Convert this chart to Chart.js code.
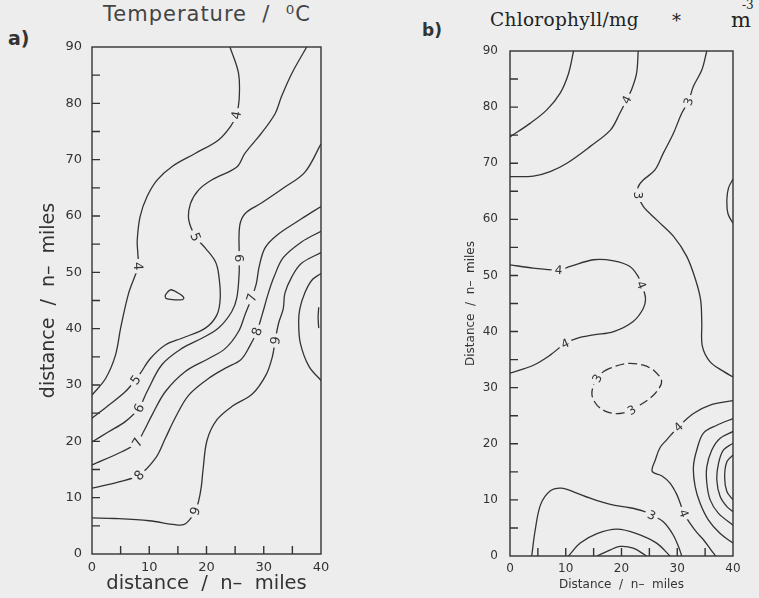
<!DOCTYPE html>
<html lang="en">
<head>
<meta charset="UTF-8">
<title>Temperature / Chlorophyll sections</title>
<script src="https://cdn.jsdelivr.net/npm/chart.js"></script>
<style>
  body { margin: 0; background: #ededed; width: 759px; height: 598px; position: relative; overflow: hidden; color: #333; font-family: "DejaVu Sans", sans-serif; }
  canvas { position: absolute; top: 0; }
  #chartTemp { left: 0; }
  #chartChl { left: 380px; }
  .txt { position: absolute; white-space: pre; line-height: 1; }
  #lblA { left: 8px; top: 29px; font-size: 19px; font-weight: bold; }
  #titleA { left: 103px; top: 4px; font-size: 21px; letter-spacing: 1px; color: #444; }
  #lblB { left: 422px; top: 22px; font-size: 17px; font-weight: bold; }
  .serif { font-family: "DejaVu Serif", serif; color: #222; }
  #titleB { left: 490px; top: 11px; font-size: 18.5px; letter-spacing: 0.3px; }
  #starB { left: 672px; top: 12px; font-size: 18px; }
  #unitB { left: 731px; top: 10px; font-size: 21px; }
  #expB { left: 742px; top: -1px; font-size: 12px; }
</style>
</head>
<body>
<div class="txt" id="lblA">a)</div>
<div class="txt" id="titleA">Temperature  /  ⁰C</div>
<div class="txt" id="lblB">b)</div>
<div class="txt serif" id="titleB">Chlorophyll/mg</div>
<div class="txt serif" id="starB">*</div>
<div class="txt serif" id="unitB">m</div>
<div class="txt serif" id="expB">-3</div>
<canvas id="chartTemp" width="380" height="598"></canvas>
<canvas id="chartChl" width="379" height="598"></canvas>

<script>
// axis ticks (n-miles)
const xTickValues = [0, 10, 20, 30, 40];
const yTickValues = [0, 10, 20, 30, 40, 50, 60, 70, 80, 90];

// ---- a) Temperature / °C : contour lines as [x, y] ----
const temp4 = [[24.1,90],[25.6,85.3],[25.7,80.6],[25.2,77.9],[24.4,76.2],[22.1,73.5],[18.0,71.1],[14.0,68.8],[11.4,66.4],[9.6,63.4],[8.4,59.9],[7.9,55.7],[8.0,53.4],[8.1,51.1],[7.6,49.6],[6.4,46.3],[5.0,40.1],[4.1,35.3],[2.4,31.2],[0,28.2]];
const temp5 = [[37.5,90],[34.9,85.3],[33.1,81.2],[32.0,78.2],[29.6,74.7],[26.7,71.1],[25.3,68.7],[20.9,66.4],[18.6,64.6],[17.2,62.2],[16.9,59.3],[18.1,56.3],[19.8,54.3],[21.5,52.0],[22.1,49.8],[22.4,45.5],[21.8,42.4],[19.8,40.1],[15.7,38.3],[12.8,37.1],[10.2,34.7],[8.4,32.0],[7.6,30.9],[5.8,28.8],[2.9,26.4],[0,24.1]];
const temp6 = [[40,72.8],[37.2,67.8],[33.5,65.0],[29.6,62.3],[26.8,60.5],[25.8,58.3],[25.7,53.4],[25.7,52.5],[25.7,49.8],[25.3,45.5],[24.4,43.0],[22.1,40.1],[19.2,38.3],[15.7,36.5],[12.2,33.6],[9.6,28.8],[8.2,25.9],[5.8,23.5],[2.9,21.7],[0,19.9]];
const temp7 = [[40,61.7],[36.6,59.5],[32.3,56.6],[30.2,54.3],[29.2,51.0],[28.7,48.0],[27.9,45.5],[26.7,42.4],[25.6,39.5],[23.3,36.5],[20.4,34.7],[16.3,32.4],[12.8,28.8],[10.5,24.7],[9.0,21.7],[7.9,19.8],[5.3,18.2],[0,15.8]];
const temp8 = [[40,57.3],[36.6,55.4],[33.4,52.6],[31.8,49.2],[30.8,46.3],[29.7,42.4],[28.8,39.5],[27.5,36.8],[26.0,34.5],[23.3,33.0],[20.4,31.2],[16.9,28.2],[14.5,24.1],[12.8,20.5],[11.1,17.0],[8.2,14.0],[4.7,12.8],[0,11.7]];
const temp9 = [[40,53.5],[36.6,51.6],[34.9,49.2],[33.7,46.3],[33.4,43.5],[32.6,41.0],[32.0,37.9],[31.5,35.0],[30.4,31.8],[28.0,28.4],[24.6,26.3],[21.8,23.8],[20.1,20.2],[19.4,15.0],[19.1,12.0],[18.6,9.3],[18.0,7.6],[17.0,6.0],[16.0,5.2],[14.5,5.2],[10.0,5.9],[4.0,6.3],[0,6.4]];
const temp10 = [[40,49.8],[38.4,48.6],[37.2,46.4],[36.3,43.5],[36.1,41.0],[36.4,37.4],[37.9,33.3],[40,30.8]];
const tempBit = [[39.6,43.8],[39.5,42.0],[39.6,40.1]];
const tempLoop = [[13.1,46.4],[13.7,46.9],[14.4,46.7],[15.1,46.3],[15.9,45.7],[16.0,45.3],[15.4,45.1],[13.7,45.2],[12.9,45.4],[12.8,45.9],[13.1,46.4]];
const tempLines = [temp4, temp5, temp6, temp7, temp8, temp9, temp10, tempBit, tempLoop];
// contour labels: [text, x, y]
const tempLabels = [['4',25.2,77.9],['4',8.1,51.1],['5',18.1,56.3],['6',25.7,52.5],['5',7.6,30.9],['6',8.2,25.9],['7',7.9,19.8],['8',8.2,14.0],['9',18.0,7.6],['7',27.9,45.5],['8',28.8,39.5],['9',32.0,37.9]];

// ---- b) Chlorophyll / mg m-3 ----
const chl5 = [[11.4,90],[10.5,86.0],[9.0,82.5],[6.6,79.5],[3.6,77.1],[0,74.7]];
const chl4top = [[23.0,90],[22.7,86.0],[21.8,83.1],[20.9,81.3],[19.7,78.9],[18.0,75.9],[14.4,73.0],[10.2,70.0],[7.2,68.5],[4.2,67.7],[0,67.6]];
const chl3right = [[35.3,90],[34.4,86.6],[32.9,83.7],[32.0,81.0],[30.8,78.9],[29.3,75.3],[27.5,71.8],[26.0,68.8],[23.9,67.0],[23.0,65.8],[23.0,64.3],[23.9,62.3],[26.3,59.9],[29.3,57.0],[31.7,53.4],[33.3,49.2],[34.2,45.6],[34.4,41.5],[34.5,37.4],[35.9,34.6],[38.3,32.9],[40,31.9]];
const chlBulge = [[40,67.2],[39.2,65.6],[38.9,63.5],[39.1,61.0],[40,59.3]];
const chl4mid = [[0,51.9],[4.2,51.3],[8.7,51.0],[10.8,51.6],[15.0,52.8],[18.6,52.6],[21.5,51.6],[23.0,49.8],[23.6,48.3],[24.3,46.0],[23.9,44.1],[22.1,41.8],[18.6,40.0],[15.0,39.4],[12.0,38.8],[9.9,37.9],[7.2,35.8],[4.2,34.0],[0,32.6]];
const chl3loop = [[16.8,32.9],[18.0,33.5],[20.9,34.3],[23.9,34.0],[26.0,32.9],[27.2,31.1],[26.3,29.3],[25.1,28.1],[23.3,26.9],[21.8,26.0],[19.7,25.4],[17.4,25.7],[15.6,26.9],[14.7,28.7],[15.0,30.5],[15.6,31.7],[16.8,32.9]];
const chl4low = [[40,27.7],[35.9,26.9],[32.9,25.4],[30.2,23.0],[28.1,20.7],[26.9,19.3],[26.1,17.2],[25.5,15.1],[27.2,14.3],[28.7,13.0],[29.8,11.2],[30.5,9.5],[31.2,7.6],[32.3,5.8],[33.5,4.2],[34.7,2.9],[36.5,0.5],[36.9,0]];
const chlRing1 = [[40,24.5],[37.1,23.3],[34.7,21.9],[33.5,18.9],[32.9,15.9],[33.2,12.4],[34.1,9.4],[35.6,6.4],[37.7,4.0],[40,2.3]];
const chlRing2 = [[40,22.2],[37.7,21.0],[36.2,18.9],[35.3,15.9],[35.3,13.0],[35.9,10.0],[37.4,7.6],[40,5.5]];
const chlRing3 = [[40,20.1],[38.3,18.9],[37.4,16.5],[37.1,13.5],[37.7,10.6],[38.9,8.8],[40,7.9]];
const chlRing4 = [[40,18.0],[38.9,16.8],[38.5,14.1],[38.9,11.5],[40,10.0]];
const chl3low = [[3.9,0],[4.5,4.5],[5.5,9.2],[7.2,11.6],[9.2,12.1],[11.5,11.4],[14.4,10.3],[18.0,9.2],[21.5,8.6],[23.9,8.0],[25.4,7.3],[27.5,6.1],[29.3,3.7],[30.4,1.2],[30.8,0]];
const chlBottom2 = [[10.5,0],[12.6,2.3],[15.6,4.0],[19.2,4.8],[22.7,4.0],[26.3,2.3],[28.7,0]];
const chlBottom1 = [[15.6,0],[18.0,1.1],[19.7,1.7],[22.1,1.4],[24.5,0]];
const chlLines = [chl5, chl4top, chl3right, chlBulge, chl4mid, chl4low, chlRing1, chlRing2, chlRing3, chlRing4, chl3low, chlBottom2, chlBottom1];
const chlDashed = [chl3loop];
const chlLabels = [['4',20.9,81.3],['3',32.0,81.0],['3',23.0,64.3],['4',8.7,51.0],['4',23.6,48.3],['4',9.9,37.9],['3',15.6,31.7],['3',21.8,26.0],['4',30.2,23.0],['3',25.4,7.3],['4',31.2,7.6]];

const BG = '#ededed';
const INK = '#333';
Chart.defaults.font.family = "'DejaVu Sans', sans-serif";
Chart.defaults.color = INK;

// frame + inward ticks every 5 n-miles
const frameTicks = {
  id: 'frameTicks',
  afterDraw(chart) {
    const { ctx, chartArea: a, scales: { x, y } } = chart;
    ctx.save();
    ctx.strokeStyle = INK;
    ctx.lineWidth = 1.4;
    ctx.strokeRect(a.left, a.top, a.right - a.left, a.bottom - a.top);
    ctx.beginPath();
    for (let v = x.min + 5; v < x.max; v += 5) {
      const p = x.getPixelForValue(v);
      ctx.moveTo(p, a.bottom); ctx.lineTo(p, a.bottom - 8);
    }
    for (let v = y.min + 5; v < y.max; v += 5) {
      const p = y.getPixelForValue(v);
      ctx.moveTo(a.left, p); ctx.lineTo(a.left + 8, p);
    }
    ctx.stroke();
    ctx.restore();
  }
};

// contour labels, turned along the nearest line
const contourLabels = {
  id: 'contourLabels',
  afterDatasetsDraw(chart, args, opts) {
    const { ctx, scales: { x, y } } = chart;
    ctx.save();
    ctx.font = opts.font;
    ctx.textAlign = 'center';
    ctx.textBaseline = 'middle';
    opts.items.forEach(([text, vx, vy]) => {
      const px = x.getPixelForValue(vx), py = y.getPixelForValue(vy);
      let best = Infinity, ang = 0;
      chart.data.datasets.forEach(ds => {
        for (let i = 1; i < ds.data.length; i++) {
          const ax = x.getPixelForValue(ds.data[i - 1].x), ay = y.getPixelForValue(ds.data[i - 1].y);
          const bx = x.getPixelForValue(ds.data[i].x), by = y.getPixelForValue(ds.data[i].y);
          const dx = bx - ax, dy = by - ay;
          const t = Math.max(0, Math.min(1, ((px - ax) * dx + (py - ay) * dy) / (dx * dx + dy * dy || 1)));
          const d = Math.hypot(ax + t * dx - px, ay + t * dy - py);
          if (d < best) { best = d; ang = Math.atan2(dy, dx); }
        }
      });
      if (ang > Math.PI / 2) ang -= Math.PI;
      if (ang < -Math.PI / 2) ang += Math.PI;
      ctx.translate(px, py);
      ctx.rotate(ang);
      const w = ctx.measureText(text).width;
      ctx.fillStyle = BG;
      ctx.fillRect(-w / 2 - 3, -7, w + 6, 14);
      ctx.fillStyle = INK;
      ctx.fillText(text, 0, 1);
      ctx.setTransform(1, 0, 0, 1, 0, 0);
    });
    ctx.restore();
  }
};

function lineSet(pts, dashed) {
  return {
    data: pts.map(([x, y]) => ({ x, y })),
    showLine: true,
    borderColor: INK,
    borderWidth: 1.3,
    borderDash: dashed ? [9, 4] : [],
    pointRadius: 0,
    tension: 0.35,
    fill: false
  };
}

function makeChart(id, lines, dashed, labels, cfg) {
  return new Chart(document.getElementById(id), {
    type: 'scatter',
    data: { datasets: lines.map(l => lineSet(l, false)).concat(dashed.map(l => lineSet(l, true))) },
    options: {
      responsive: false,
      animation: false,
      layout: { padding: { top: cfg.top, right: cfg.right, left: 0, bottom: 0 } },
      plugins: {
        legend: { display: false },
        tooltip: { enabled: false },
        contourLabels: { items: labels, font: cfg.labelFont }
      },
      scales: {
        x: {
          type: 'linear', min: 0, max: 40,
          afterBuildTicks: s => { s.ticks = xTickValues.map(v => ({ value: v })); },
          afterFit: s => { s.height = cfg.xHeight; },
          grid: { display: false, drawTicks: false },
          border: { display: false },
          ticks: { padding: cfg.xPad, font: { size: cfg.tickSize }, color: INK, maxRotation: 0 },
          title: { display: true, text: cfg.xTitle, font: { size: cfg.xTitleSize }, color: INK, padding: { top: 0, bottom: cfg.xTitlePad } }
        },
        y: {
          type: 'linear', min: 0, max: 90,
          afterBuildTicks: s => { s.ticks = yTickValues.map(v => ({ value: v })); },
          afterFit: s => { s.width = cfg.yWidth; },
          grid: { display: false, drawTicks: false },
          border: { display: false },
          ticks: { padding: cfg.yPad, font: { size: cfg.tickSize }, color: INK },
          title: { display: true, text: cfg.yTitle, font: { size: cfg.yTitleSize }, color: INK, padding: { top: cfg.yTitlePad, bottom: 0 } }
        }
      }
    },
    plugins: [frameTicks, contourLabels]
  });
}

makeChart('chartTemp', tempLines, [], tempLabels, {
  top: 47, right: 59, xHeight: 44, yWidth: 92,
  tickSize: 13, xPad: 6, yPad: 10,
  xTitle: 'distance  /  n\u2013  miles', xTitleSize: 19.5, xTitlePad: 2,
  yTitle: 'distance  /  n\u2013  miles', yTitleSize: 19, yTitlePad: 38,
  labelFont: "13px 'DejaVu Sans', sans-serif"
});

makeChart('chartChl', chlLines, chlDashed, chlLabels, {
  top: 51, right: 26, xHeight: 42, yWidth: 130,
  tickSize: 12, xPad: 6, yPad: 12,
  xTitle: 'Distance  /  n\u2013  miles', xTitleSize: 12, xTitlePad: 6,
  yTitle: 'Distance  /  n\u2013  miles', yTitleSize: 12, yTitlePad: 84,
  labelFont: "12px 'DejaVu Sans', sans-serif"
});
</script>
</body>
</html>
